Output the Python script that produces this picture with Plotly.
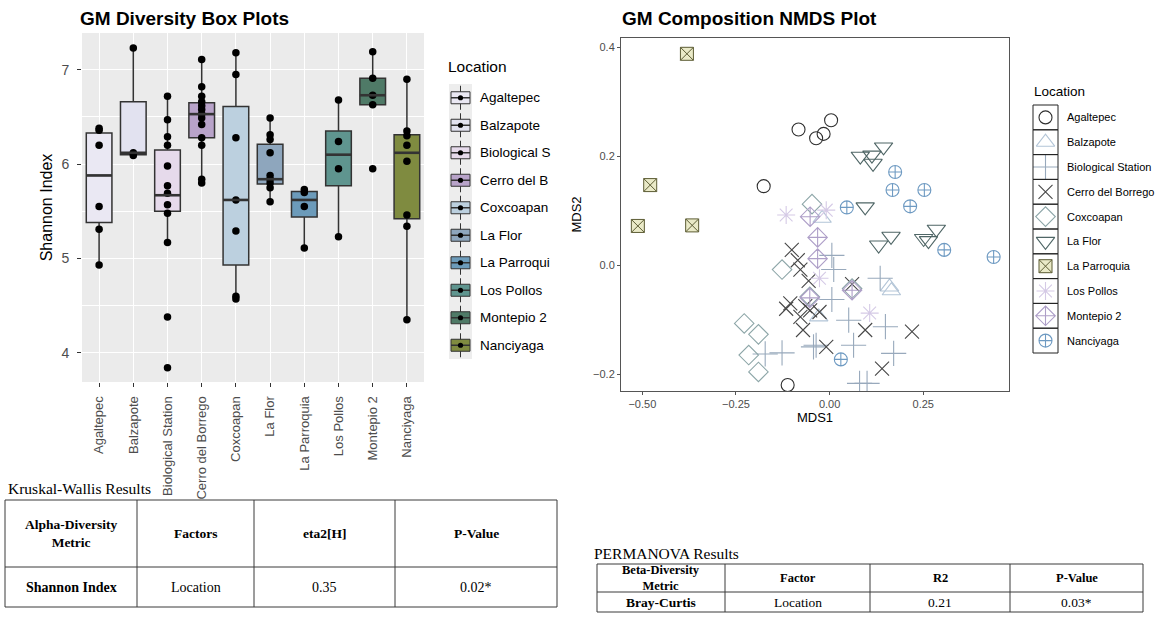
import plotly.graph_objects as go

W, H = 1172, 619


def px(x):
    return x / W


def py(y):
    return 1 - y / H


# ---------------- data: box plots ----------------
locations = ["Agaltepec", "Balzapote", "Biological Station", "Cerro del Borrego", "Coxcoapan",
             "La Flor", "La Parroquia", "Los Pollos", "Montepio 2", "Nanciyaga"]
box_legend_labels = ["Agaltepec", "Balzapote", "Biological S", "Cerro del B", "Coxcoapan",
                     "La Flor", "La Parroqui", "Los Pollos", "Montepio 2", "Nanciyaga"]
box_fill_colors = ["#EAE8F3", "#E2E2F0", "#E6DAEB", "#B8A3C9", "#BCD0DF",
                   "#8EA6BD", "#6C9BBA", "#5F958F", "#4F7A67", "#7F8B40"]

agaltepec_shannon = [6.38, 6.36, 6.20, 5.55, 5.31, 4.93]
balzapote_shannon = [7.23, 6.12, 6.09]
biological_station_shannon = [6.72, 6.47, 6.29, 6.20, 5.98, 5.77, 5.69, 5.57, 5.48, 5.17, 4.38, 3.84]
cerro_del_borrego_shannon = [7.11, 6.82, 6.72, 6.66, 6.62, 6.58, 6.53, 6.49, 6.42, 6.28, 6.20, 5.84, 5.80]
coxcoapan_shannon = [7.18, 6.95, 6.28, 5.62, 5.29, 4.60, 4.57]
la_flor_shannon = [6.49, 6.31, 6.26, 6.12, 5.88, 5.84, 5.80, 5.75, 5.60]
la_parroquia_shannon = [5.73, 5.70, 5.55, 5.11]
los_pollos_shannon = [6.68, 6.24, 5.95, 5.23]
montepio_2_shannon = [7.19, 6.91, 6.73, 6.63, 5.95]
nanciyaga_shannon = [6.90, 6.35, 6.30, 6.20, 6.03, 5.46, 5.34, 4.35]

box_q1 = [5.38, 6.10, 5.50, 6.28, 4.93, 5.79, 5.44, 5.77, 6.63, 5.42]
box_median = [5.88, 6.12, 5.67, 6.53, 5.62, 5.84, 5.62, 6.10, 6.73, 6.12]
box_q3 = [6.33, 6.66, 6.15, 6.65, 6.61, 6.21, 5.71, 6.35, 6.91, 6.31]
box_lower = [4.93, 6.10, 5.17, 5.81, 4.58, 5.60, 5.11, 5.23, 6.63, 4.35]
box_upper = [6.38, 7.23, 6.72, 7.11, 7.18, 6.49, 5.73, 6.68, 7.19, 6.90]

# ---------------- data: NMDS ----------------
agaltepec_mds1 = [-0.083, -0.036, -0.016, 0.004, -0.176, -0.112]
agaltepec_mds2 = [0.249, 0.233, 0.241, 0.266, 0.145, -0.220]
balzapote_mds1 = [-0.020, 0.160, -0.029, 0.165]
balzapote_mds2 = [0.086, -0.040, -0.095, -0.047]
biological_station_mds1 = [0.006, 0.011, 0.006, 0.135, 0.051, 0.149, 0.064, 0.171, -0.127, -0.172,
                           -0.043, -0.036, 0.080, 0.100]
biological_station_mds2 = [0.018, -0.008, -0.063, -0.024, -0.101, -0.113, -0.147, -0.162, -0.161, -0.163,
                           -0.150, -0.147, -0.217, -0.217]
cerro_del_borrego_mds1 = [-0.101, -0.085, -0.078, -0.056, 0.060, -0.116, -0.105, -0.078, -0.052, -0.027,
                          -0.071, -0.009, 0.095, 0.220, 0.140, -0.065]
cerro_del_borrego_mds2 = [0.028, 0.009, -0.008, -0.029, -0.035, -0.080, -0.070, -0.095, -0.083, -0.086,
                          -0.119, -0.150, -0.119, -0.122, -0.190, -0.075]
coxcoapan_mds1 = [-0.047, -0.127, -0.228, -0.190, -0.216, -0.190, -0.053, 0.060]
coxcoapan_mds2 = [0.112, -0.008, -0.107, -0.127, -0.165, -0.196, -0.058, -0.043]
la_flor_mds1 = [0.082, 0.113, 0.144, 0.116, 0.095, 0.131, 0.164, 0.251, 0.264, 0.285]
la_flor_mds2 = [0.200, 0.202, 0.217, 0.187, 0.107, 0.037, 0.053, 0.049, 0.045, 0.066]
la_parroquia_mds1 = [-0.381, -0.479, -0.512, -0.367]
la_parroquia_mds2 = [0.388, 0.147, 0.072, 0.073]
los_pollos_mds1 = [-0.116, -0.009, -0.027, 0.107]
los_pollos_mds2 = [0.092, 0.101, -0.024, -0.088]
montepio_2_mds1 = [-0.052, -0.032, -0.032, 0.060, -0.053]
montepio_2_mds2 = [0.089, 0.051, 0.012, -0.046, -0.060]
nanciyaga_mds1 = [0.175, 0.168, 0.253, 0.215, 0.046, 0.306, 0.438, 0.030]
nanciyaga_mds2 = [0.171, 0.138, 0.138, 0.108, 0.106, 0.028, 0.015, -0.173]

nmds_symbols = ["circle-open", "triangle-up-open", "cross-thin-open", "x-thin-open", "diamond-open",
                "triangle-down-open", "square-x", "asterisk-open", "diamond-cross-open", "circle-cross-open"]
nmds_colors = ["#2E2E2E", "#B3C5D7", "#98A9BC", "#474747", "#8DA6A8",
               "#4F6666", "#5C5C34", "#D5CAE6", "#AE9FC8", "#6E9AC2"]
nmds_sizes = [13, 16, 18, 14, 15, 16, 13, 15, 15, 13]
parroquia_fill = "#EAEAC8"

# ---------------- data: tables ----------------
kw_header = ["Alpha-Diversity<br>Metric", "Factors", "eta2[H]", "P-Value"]
kw_row = ["<b>Shannon Index</b>", "Location", "0.35", "0.02*"]
pm_header = ["Beta-Diversity<br>Metric", "Factor", "R2", "P-Value"]
pm_row = ["<b>Bray-Curtis</b>", "Location", "0.21", "0.03*"]

shannon_lists = [agaltepec_shannon, balzapote_shannon, biological_station_shannon, cerro_del_borrego_shannon,
                 coxcoapan_shannon, la_flor_shannon, la_parroquia_shannon, los_pollos_shannon,
                 montepio_2_shannon, nanciyaga_shannon]
mds1_lists = [agaltepec_mds1, balzapote_mds1, biological_station_mds1, cerro_del_borrego_mds1, coxcoapan_mds1,
              la_flor_mds1, la_parroquia_mds1, los_pollos_mds1, montepio_2_mds1, nanciyaga_mds1]
mds2_lists = [agaltepec_mds2, balzapote_mds2, biological_station_mds2, cerro_del_borrego_mds2, coxcoapan_mds2,
              la_flor_mds2, la_parroquia_mds2, los_pollos_mds2, montepio_2_mds2, nanciyaga_mds2]

SANS = "Liberation Sans"
SERIF = "Liberation Serif"
BOXW = 0.75

fig = go.Figure()

# ---- box plots ----
for i, loc in enumerate(locations):
    fig.add_trace(go.Box(
        x=[loc], q1=[box_q1[i]], median=[box_median[i]], q3=[box_q3[i]],
        lowerfence=[box_lower[i]], upperfence=[box_upper[i]],
        fillcolor=box_fill_colors[i], line=dict(color="#333333", width=1.5),
        whiskerwidth=0, width=BOXW, boxpoints=False, showlegend=False,
        hoverinfo="skip", xaxis="x", yaxis="y"))
for i, loc in enumerate(locations):
    vals = shannon_lists[i]
    fig.add_trace(go.Scatter(
        x=[loc] * len(vals), y=vals, mode="markers",
        marker=dict(color="black", size=7.5), showlegend=False, xaxis="x", yaxis="y"))

# ---- NMDS ----
for i, loc in enumerate(locations):
    if nmds_symbols[i] == "square-x":
        mk = dict(symbol="square-x", size=nmds_sizes[i], color=parroquia_fill,
                  line=dict(color=nmds_colors[i], width=1))
    else:
        mk = dict(symbol=nmds_symbols[i], size=nmds_sizes[i], color=nmds_colors[i],
                  line=dict(color=nmds_colors[i], width=1.1))
    fig.add_trace(go.Scatter(x=mds1_lists[i], y=mds2_lists[i], mode="markers", marker=mk,
                             name=loc, showlegend=False, xaxis="x2", yaxis="y2"))
    fig.add_trace(go.Scatter(x=[0], y=[i], mode="markers", marker=dict(mk), showlegend=False,
                             hoverinfo="skip", xaxis="x3", yaxis="y3"))

shapes = []
annotations = []

# grey panel for box plot
shapes.append(dict(type="rect", xref="x domain", yref="y domain", x0=0, x1=1, y0=0, y1=1,
                   fillcolor="#EBEBEB", line=dict(width=0), layer="below"))
# thicker median lines (ggplot style)
for i, m in enumerate(box_median):
    shapes.append(dict(type="line", xref="x", yref="y", x0=i - BOXW / 2, x1=i + BOXW / 2, y0=m, y1=m,
                       line=dict(color="#333333", width=2.6), layer="above"))

# ---- titles ----
annotations.append(dict(text="<b>GM Diversity Box Plots</b>", x=px(78), y=py(18), xref="paper", yref="paper",
                        xanchor="left", yanchor="middle", showarrow=False,
                        font=dict(family=SANS, size=19, color="black")))
annotations.append(dict(text="<b>GM Composition NMDS Plot</b>", x=px(620), y=py(18), xref="paper", yref="paper",
                        xanchor="left", yanchor="middle", showarrow=False,
                        font=dict(family=SANS, size=19, color="black")))

# ---- box legend (manual) ----
bl_x0, bl_x1 = 449, 472
bl_top, bl_step = 84, 27.5
annotations.append(dict(text="Location", x=px(446), y=py(66), xref="paper", yref="paper", xanchor="left",
                        yanchor="middle", showarrow=False, font=dict(family=SANS, size=15.5, color="black")))
shapes.append(dict(type="rect", xref="paper", yref="paper", x0=px(bl_x0), x1=px(bl_x1),
                   y0=py(bl_top), y1=py(bl_top + bl_step * len(locations)),
                   fillcolor="#EDEDED", line=dict(width=0)))
for i, lab in enumerate(box_legend_labels):
    yc = bl_top + bl_step * (i + 0.5)
    xc = (bl_x0 + bl_x1) / 2
    shapes.append(dict(type="line", xref="paper", yref="paper", x0=px(xc), x1=px(xc),
                       y0=py(yc - 12), y1=py(yc + 12), line=dict(color="#333333", width=1)))
    shapes.append(dict(type="rect", xref="paper", yref="paper", x0=px(bl_x0 + 2), x1=px(bl_x1 - 2),
                       y0=py(yc - 6), y1=py(yc + 6), fillcolor=box_fill_colors[i],
                       line=dict(color="#333333", width=1)))
    shapes.append(dict(type="line", xref="paper", yref="paper", x0=px(bl_x0 + 2), x1=px(bl_x1 - 2),
                       y0=py(yc), y1=py(yc), line=dict(color="#333333", width=1.5)))
    shapes.append(dict(type="circle", xref="paper", yref="paper", x0=px(xc - 2.6), x1=px(xc + 2.6),
                       y0=py(yc - 2.6), y1=py(yc + 2.6), fillcolor="black", line=dict(width=0)))
    annotations.append(dict(text=lab, x=px(478), y=py(yc), xref="paper", yref="paper", xanchor="left",
                            yanchor="middle", showarrow=False, font=dict(family=SANS, size=13.5, color="black")))

# ---- NMDS legend (manual frame) ----
nl_x0, nl_x1 = 1033, 1058
nl_top, nl_step = 105, 24.8
annotations.append(dict(text="Location", x=px(1032), y=py(91), xref="paper", yref="paper", xanchor="left",
                        yanchor="middle", showarrow=False, font=dict(family=SANS, size=13.5, color="black")))
for i, loc in enumerate(locations):
    y0 = nl_top + nl_step * i
    shapes.append(dict(type="rect", xref="paper", yref="paper", x0=px(nl_x0), x1=px(nl_x1),
                       y0=py(y0), y1=py(y0 + nl_step), line=dict(color="#222222", width=1)))
    annotations.append(dict(text=loc, x=px(1065), y=py(y0 + nl_step / 2), xref="paper", yref="paper",
                            xanchor="left", yanchor="middle", showarrow=False,
                            font=dict(family=SANS, size=11, color="black")))


# ---- tables ----
def add_table(title, title_xy, cols, rows, header, row, hsize, rsize):
    annotations.append(dict(text=title, x=px(title_xy[0]), y=py(title_xy[1]), xref="paper", yref="paper",
                            xanchor="left", yanchor="middle", showarrow=False,
                            font=dict(family=SERIF, size=15.5, color="black")))
    for yv in rows:
        shapes.append(dict(type="line", xref="paper", yref="paper", x0=px(cols[0]), x1=px(cols[-1]),
                           y0=py(yv), y1=py(yv), line=dict(color="#3a3a3a", width=1)))
    for xv in cols:
        shapes.append(dict(type="line", xref="paper", yref="paper", x0=px(xv), x1=px(xv),
                           y0=py(rows[0]), y1=py(rows[-1]), line=dict(color="#3a3a3a", width=1)))
    for j in range(4):
        xc = (cols[j] + cols[j + 1]) / 2
        annotations.append(dict(text="<b>" + header[j] + "</b>", x=px(xc), y=py((rows[0] + rows[1]) / 2),
                                xref="paper", yref="paper", xanchor="center", yanchor="middle",
                                showarrow=False, font=dict(family=SERIF, size=hsize, color="black")))
        annotations.append(dict(text=row[j], x=px(xc), y=py((rows[1] + rows[2]) / 2),
                                xref="paper", yref="paper", xanchor="center", yanchor="middle",
                                showarrow=False, font=dict(family=SERIF, size=rsize, color="black")))


add_table("Kruskal-Wallis Results", (6, 488), [5, 137, 254, 395, 557], [500, 567, 607],
          kw_header, kw_row, 13.5, 14)
add_table("PERMANOVA Results", (592, 553), [597, 725, 870, 1010, 1143], [564, 592, 612],
          pm_header, pm_row, 12.5, 13.5)

fig.update_layout(
    width=W, height=H, template="none",
    margin=dict(l=0, r=0, t=0, b=0),
    paper_bgcolor="white", plot_bgcolor="rgba(0,0,0,0)",
    showlegend=False, boxmode="overlay",
    shapes=shapes, annotations=annotations,
    xaxis=dict(domain=[px(82), px(424)], anchor="y", type="category",
               categoryorder="array", categoryarray=locations, range=[-0.5, 9.5],
               showgrid=True, gridcolor="white", gridwidth=1.3, zeroline=False, showline=False,
               ticks="outside", ticklen=4, tickcolor="#333333", tickwidth=1, tickangle=-90,
               ticklabelstandoff=4,
               tickfont=dict(family=SANS, size=13, color="#4D4D4D")),
    yaxis=dict(domain=[py(382), py(33)], anchor="x", range=[3.69, 7.39], tickvals=[4, 5, 6, 7],
               showgrid=True, gridcolor="white", gridwidth=1.3, zeroline=False, showline=False,
               minor=dict(tickvals=[4.5, 5.5, 6.5], showgrid=True, gridcolor="white", gridwidth=0.6),
               ticks="outside", ticklen=4, tickcolor="#333333", tickwidth=1, ticklabelstandoff=5,
               tickfont=dict(family=SANS, size=14, color="#4D4D4D"),
               title=dict(text="Shannon Index", standoff=4, font=dict(family=SANS, size=16, color="black"))),
    xaxis2=dict(domain=[px(621), px(1009)], anchor="y2", range=[-0.557, 0.479],
                tickvals=[-0.5, -0.25, 0, 0.25], tickformat=".2f",
                showgrid=False, zeroline=False, showline=True, mirror=True, linecolor="#555555", linewidth=1,
                ticks="outside", ticklen=3, tickcolor="#555555",
                tickfont=dict(family=SANS, size=11, color="#4D4D4D"),
                title=dict(text="MDS1", standoff=2, font=dict(family=SANS, size=13, color="black"))),
    yaxis2=dict(domain=[py(391), py(38)], anchor="x2", range=[-0.231, 0.417],
                tickvals=[-0.2, 0, 0.2, 0.4], tickformat=".1f",
                showgrid=False, zeroline=False, showline=True, mirror=True, linecolor="#555555", linewidth=1,
                ticks="outside", ticklen=3, tickcolor="#555555",
                tickfont=dict(family=SANS, size=11, color="#4D4D4D"),
                title=dict(text="MDS2", standoff=8, font=dict(family=SANS, size=13, color="black"))),
    xaxis3=dict(domain=[px(nl_x0), px(nl_x1)], anchor="y3", range=[-1, 1], visible=False, fixedrange=True),
    yaxis3=dict(domain=[py(nl_top + nl_step * len(locations)), py(nl_top)], anchor="x3",
                range=[len(locations) - 0.5, -0.5], visible=False, fixedrange=True),
)

fig.write_html("out.html", config={"displayModeBar": False},
               post_script="document.body.style.margin='0';document.body.style.overflow='hidden';")
